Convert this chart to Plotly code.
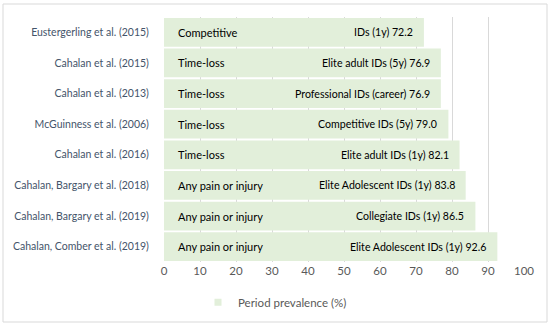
import plotly.graph_objects as go

studies = ["Eustergerling et al. (2015)", "Cahalan et al. (2015)", "Cahalan et al. (2013)",
           "McGuinness et al. (2006)", "Cahalan et al. (2016)", "Cahalan, Bargary et al. (2018)",
           "Cahalan, Bargary et al. (2019)", "Cahalan, Comber et al. (2019)"]
values = [72.2, 76.9, 76.9, 79.0, 82.1, 83.8, 86.5, 92.6]
definitions = ["Competitive", "Time-loss", "Time-loss", "Time-loss", "Time-loss",
               "Any pain or injury", "Any pain or injury", "Any pain or injury"]
populations = ["IDs (1y)", "Elite adult IDs (5y)", "Professional IDs (career)", "Competitive IDs (5y)",
               "Elite adult IDs (1y)", "Elite Adolescent IDs (1y)", "Collegiate IDs (1y)",
               "Elite Adolescent IDs (1y)"]
x_ticks = [0, 10, 20, 30, 40, 50, 60, 70, 80, 90, 100]

FONT = "Lato"
bar_color = "#e2efda"

fig = go.Figure()
fig.add_trace(go.Bar(
    y=studies, x=values, orientation="h",
    marker=dict(color=bar_color, line=dict(width=0)),
    name="Period prevalence (%)", showlegend=False,
))
fig.add_trace(go.Scatter(
    x=[None], y=[None], mode="markers",
    marker=dict(symbol="square", size=7, color=bar_color),
    name="Period prevalence (%)", showlegend=True,
))

annotations = []
for s, v, d, p in zip(studies, values, definitions, populations):
    annotations.append(dict(x=3.2, y=s, xref="x", yref="y", text=d, showarrow=False,
                            xanchor="left", font=dict(family=FONT, size=11, color="#000000")))
    annotations.append(dict(x=v, y=s, xref="x", yref="y", text=f"{p} {v:.1f}", showarrow=False,
                            xanchor="right", xshift=-9,
                            font=dict(family=FONT, size=10.6, color="#000000")))

fig.update_layout(
    width=550, height=325,
    margin=dict(l=164, r=26, t=17, b=63),
    paper_bgcolor="white", plot_bgcolor="white",
    bargap=0.06,
    font=dict(family=FONT, size=11, color="#595959"),
    annotations=annotations,
    showlegend=True,
    legend=dict(orientation="h", xref="container", yref="container", x=0.5, y=0.07,
                xanchor="center", yanchor="middle",
                font=dict(family=FONT, size=11.5, color="#595959"),
                itemwidth=30),
    xaxis=dict(range=[0, 100], tickvals=x_ticks, showgrid=True, gridcolor="#d9d9d9",
               gridwidth=1, zeroline=False, showline=False, automargin=False,
               tickfont=dict(family=FONT, size=11.5, color="#595959"), fixedrange=True),
    yaxis=dict(autorange="reversed", showgrid=False, zeroline=False, showline=False,
               ticks="outside", ticklen=12, tickcolor="rgba(0,0,0,0)", automargin=False,
               tickfont=dict(family=FONT, size=10.5, color="#44546a")),
    shapes=[dict(type="rect", xref="paper", yref="paper",
                 x0=(3 - 164) / 360, x1=(547 - 164) / 360,
                 y0=(262 - 322) / 245, y1=(262 - 4) / 245,
                 line=dict(color="#d9d9d9", width=1), fillcolor="rgba(0,0,0,0)", layer="below")],
)

fig.write_html("out.html", config={"displayModeBar": False},
               post_script="document.body.style.margin='0';document.body.style.overflow='hidden';")
